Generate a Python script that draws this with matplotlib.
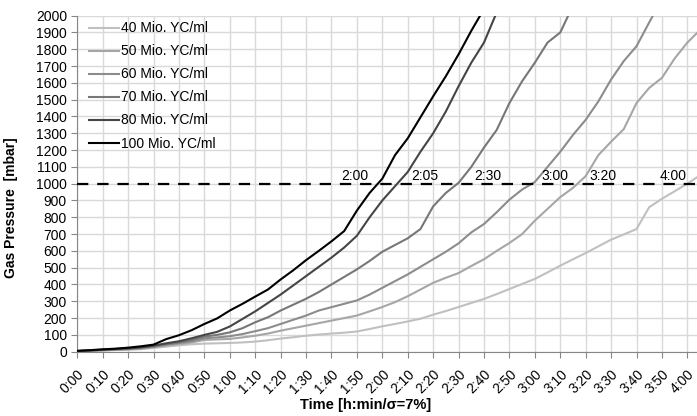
import matplotlib
matplotlib.use('Agg')
import matplotlib.pyplot as plt

plt.rcParams['font.family'] = ['Liberation Sans', 'DejaVu Sans']
plt.rcParams['font.size'] = 10

# time grid in minutes, readings every 5 min
minutes = list(range(0, 250, 5))

p40 = [2, 4, 7, 10, 12, 15, 22, 30, 38, 44, 48, 50, 52, 55, 60, 68, 78, 86, 95, 102,
       108, 113, 120, 135, 151, 165, 180, 196, 220, 242, 266, 290, 314, 343, 373, 403,
       433, 472, 512, 550, 587, 627, 667, 698, 730, 860, 910, 955, 1000, 1050]
p50 = [3, 5, 8, 11, 14, 18, 27, 38, 46, 55, 70, 73, 76, 85, 95, 108, 125, 140, 155, 170,
       185, 200, 215, 240, 266, 295, 330, 370, 410, 440, 468, 510, 550, 600, 647, 700,
       780, 850, 920, 975, 1045, 1170, 1250, 1325, 1480, 1570, 1630, 1745, 1840, 1915]
p60 = [3, 6, 10, 13, 16, 21, 30, 42, 52, 62, 80, 85, 92, 105, 122, 140, 165, 190, 215, 245,
       265, 285, 305, 340, 380, 420, 460, 505, 550, 595, 645, 710, 760, 830, 905, 965,
       1010, 1100, 1190, 1290, 1380, 1490, 1620, 1730, 1818, 1960, 2100]
p70 = [4, 7, 11, 15, 18, 24, 33, 45, 55, 70, 90, 100, 115, 140, 175, 205, 245, 280, 315, 355,
       400, 445, 490, 540, 595, 635, 675, 730, 865, 945, 1005, 1100, 1215, 1320, 1480, 1610,
       1720, 1840, 1900, 2060]
p80 = [4, 8, 12, 16, 20, 26, 36, 50, 62, 80, 100, 118, 150, 195, 240, 290, 340, 395, 450, 505,
       560, 620, 690, 800, 900, 985, 1070, 1190, 1300, 1430, 1580, 1720, 1840, 2020]
p100 = [5, 9, 14, 18, 24, 32, 42, 75, 98, 128, 165, 198, 245, 285, 328, 370, 430, 485, 545, 600,
        657, 718, 840, 945, 1030, 1170, 1270, 1395, 1520, 1640, 1770, 1910, 2040]

labels = ['40 Mio. YC/ml', '50 Mio. YC/ml', '60 Mio. YC/ml',
          '70 Mio. YC/ml', '80 Mio. YC/ml', '100 Mio. YC/ml']
colors = ['#c0c0c0', '#a6a6a6', '#8c8c8c', '#777777', '#454545', '#000000']

# time where each curve reaches 1000 mbar
cross_text = ['4:00', '3:20', '3:00', '2:30', '2:05', '2:00']
cross_pos = [234.5, 206.8, 188, 161.5, 136.9, 109.2]

tick_min = list(range(0, 241, 10))
tick_lab = ['%d:%02d' % (m // 60, m % 60) for m in tick_min]

fig = plt.figure(figsize=(6.97, 4.16), dpi=100)
ax = fig.add_axes([0.1109, 0.1546, 0.8891, 0.8077])

for vals, lab, c in zip([p40, p50, p60, p70, p80, p100], labels, colors):
    ax.plot(minutes[:len(vals)], vals, color=c, lw=1.5, label=lab, zorder=3)

ax.axhline(1000, color='black', lw=1.6, linestyle=(0, (5.1, 4)), zorder=4)
for t, x in zip(cross_text, cross_pos):
    ax.text(x, 1003, t, ha='center', va='bottom', fontsize=10, zorder=5)

ax.set_xlim(0, 243.8)
ax.set_ylim(0, 2000)
ax.set_xticks(tick_min)
ax.set_xticklabels(tick_lab, rotation=45, ha='right', va='top', rotation_mode='anchor')
ax.set_yticks(range(0, 2001, 100))
ax.grid(True, color='#d9d9d9', lw=1)
ax.set_axisbelow(True)
for s in ['top', 'right']:
    ax.spines[s].set_visible(False)
for s in ['left', 'bottom']:
    ax.spines[s].set_color('#868686')
ax.tick_params(direction='out', length=4, color='#868686', labelsize=10)
ax.tick_params(axis='x', pad=7)

ax.set_xlabel('Time [h:min/σ=7%]', fontweight='bold', fontsize=10.5)
ax.set_ylabel('Gas Pressure  [mbar]', fontweight='bold', fontsize=10)
ax.xaxis.set_label_coords(0.466, -0.138)
ax.yaxis.set_label_coords(-0.096, 0.43)

ax.legend(loc='upper left', frameon=False, handlelength=2.16, handletextpad=0.1,
          labelspacing=0.65, bbox_to_anchor=(0.004, 1.012), borderaxespad=0.3)

fig.savefig('out.png', dpi=100)
